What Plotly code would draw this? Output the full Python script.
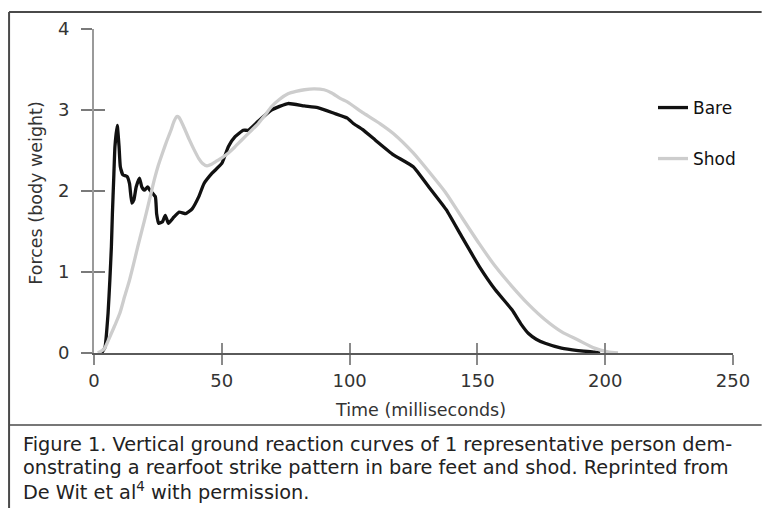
import plotly.graph_objects as go

# ---- data ----
bare_t = [3.0, 4.3, 5.5, 6.2, 6.8, 7.2, 7.7, 8.2, 9.1, 9.8, 10.3, 11.3, 12.9, 13.9, 14.8, 15.6,
          16.5, 17.8, 18.7, 19.7, 21.0, 21.9, 24.0, 24.5, 25.3, 26.8, 27.9, 29.1, 31.3, 33.3,
          35.9, 38.4, 41.0, 43.0, 46.2, 50.0, 52.6, 55.2, 58.4, 60.4, 64.2, 69.4, 75.9, 82.3,
          87.5, 93.9, 99.1, 101.6, 105.0, 110.0, 117.0, 124.9, 131.0, 137.8, 144.0, 150.7,
          157.0, 163.6, 167.0, 170.0, 173.0, 176.5, 182.9, 189.4, 195.8, 198.0]
bare_f = [0.0, 0.07, 0.49, 0.9, 1.31, 1.72, 2.14, 2.55, 2.81, 2.55, 2.30, 2.20, 2.18, 2.09, 1.85, 1.89,
          2.05, 2.16, 2.05, 2.01, 2.05, 2.01, 1.93, 1.72, 1.60, 1.62, 1.70, 1.60, 1.68, 1.74,
          1.72, 1.78, 1.93, 2.09, 2.22, 2.34, 2.55, 2.67, 2.75, 2.75, 2.86, 3.00, 3.08, 3.05,
          3.03, 2.96, 2.90, 2.83, 2.76, 2.63, 2.45, 2.30, 2.05, 1.77, 1.43, 1.07,
          0.78, 0.53, 0.36, 0.24, 0.17, 0.12, 0.06, 0.03, 0.01, 0.0]

shod_t = [1.5, 4.0, 6.2, 8.0, 10.1, 12.0, 13.9, 15.5, 17.1, 18.8, 20.4, 22.0, 23.6, 25.2, 26.8,
          28.5, 30.1, 31.3, 32.4, 33.2, 35.0, 37.2, 39.0, 41.0, 42.5, 44.2, 46.0, 47.5, 50.0,
          52.6, 55.0, 57.8, 61.0, 64.2, 67.0, 69.4, 72.5, 75.9, 79.0, 82.3, 86.0, 90.0, 93.0,
          96.5, 99.1, 105.5, 112.0, 117.1, 124.9, 131.0, 137.8, 144.0, 150.7, 157.0, 163.6,
          170.0, 176.5, 183.0, 189.4, 195.8, 201.0, 205.0]
shod_f = [0.0, 0.05, 0.2, 0.33, 0.49, 0.7, 0.9, 1.1, 1.31, 1.52, 1.72, 1.93, 2.14, 2.32, 2.47,
          2.62, 2.75, 2.86, 2.92, 2.91, 2.80, 2.64, 2.52, 2.40, 2.34, 2.31, 2.33, 2.36, 2.41,
          2.47, 2.54, 2.63, 2.73, 2.83, 2.94, 3.04, 3.13, 3.20, 3.23, 3.25, 3.26, 3.25, 3.21,
          3.14, 3.10, 2.96, 2.83, 2.71, 2.47, 2.24, 1.97, 1.67, 1.35, 1.07, 0.82,
          0.60, 0.41, 0.26, 0.16, 0.06, 0.015, 0.0]

x_ticks = [0, 50, 100, 150, 200, 250]
y_ticks = [0, 1, 2, 3, 4]

x_title = "Time (milliseconds)"
y_title = "Forces (body weight)"
caption_lines = [
    "Figure 1. Vertical ground reaction curves of 1 representative person dem-",
    "onstrating a rearfoot strike pattern in bare feet and shod. Reprinted from",
    "De Wit et al<sup>4</sup> with permission.",
]

# ---- geometry (pixels) ----
W, H = 762, 508
L, R, T, B = 94, 741, 29, 353
def px(x):
    return (x - L) / (R - L)
def py(y):
    return (B - y) / (B - T)

FONT = "DejaVu Sans, Liberation Sans, sans-serif"

fig = go.Figure()
fig.add_trace(go.Scatter(x=bare_t, y=bare_f, mode="lines", name="Bare",
                         line=dict(color="#111111", width=3.3, shape="spline", smoothing=0.4),
                         legend="legend", xaxis="x", yaxis="y"))
fig.add_trace(go.Scatter(x=shod_t, y=shod_f, mode="lines", name="Shod",
                         line=dict(color="#cdcdcd", width=3.3, shape="spline", smoothing=0.6),
                         legend="legend2", xaxis="x2", yaxis="y2"))

common_x = dict(range=[0, 250], tickvals=x_ticks, fixedrange=True, showgrid=False, zeroline=False)
common_y = dict(range=[0, 4], tickvals=y_ticks, fixedrange=True, showgrid=False, zeroline=False)

fig.update_layout(
    width=W, height=H,
    margin=dict(l=L, r=W - R, t=T, b=H - B, pad=0),
    paper_bgcolor="white", plot_bgcolor="white",
    font=dict(family=FONT, color="#333333", size=16),
    xaxis=dict(**common_x, showline=True, linecolor="#5a5a5a", linewidth=2,
               ticks="outside", ticklen=10, tickwidth=1.5, tickcolor="#8a8a8a",
               ticklabelstandoff=0, tickfont=dict(size=18, color="#333333")),
    yaxis=dict(**common_y, showline=True, linecolor="#9a9a9a", linewidth=2,
               ticks="outside", ticklen=11, tickwidth=1.5, tickcolor="#7a7a7a",
               ticklabelstandoff=8, tickfont=dict(size=18, color="#333333")),
    xaxis2=dict(**common_x, overlaying="x", side="bottom", showline=False,
                ticks="inside", ticklen=10, tickwidth=1.5, tickcolor="#8a8a8a",
                showticklabels=False),
    yaxis2=dict(**common_y, overlaying="y", side="left", showline=False,
                ticks="inside", ticklen=11, tickwidth=1.5, tickcolor="#7a7a7a",
                showticklabels=False),
    legend=dict(x=px(660), y=py(108), xanchor="left", yanchor="middle",
                bgcolor="rgba(0,0,0,0)", font=dict(size=17, color="#111111"),
                itemwidth=30),
    legend2=dict(x=px(660), y=py(159), xanchor="left", yanchor="middle",
                 bgcolor="rgba(0,0,0,0)", font=dict(size=17, color="#111111"),
                 itemwidth=30),
    showlegend=True,
)

annotations = [
    dict(text=x_title, x=px(425), y=py(410), xref="paper", yref="paper",
         showarrow=False, xanchor="center", yanchor="middle",
         font=dict(size=17.5, color="#333333")),
    dict(text=y_title, x=px(35), y=py(193), xref="paper", yref="paper",
         showarrow=False, xanchor="center", yanchor="middle", textangle=-90,
         font=dict(size=17.5, color="#333333")),
]
cap_y = [444, 467, 491]
for line, yy in zip(caption_lines, cap_y):
    annotations.append(dict(text=line, x=px(20), y=py(yy), xref="paper", yref="paper",
                            showarrow=False, xanchor="left", yanchor="middle",
                            font=dict(size=19.3, color="#222222")))
fig.update_layout(annotations=annotations)

shapes = [
    # outer frame (left and top), divider above caption
    dict(type="line", xref="paper", yref="paper", x0=px(8), x1=px(8), y0=py(12), y1=py(520),
         line=dict(color="#4a4a4a", width=2)),
    dict(type="line", xref="paper", yref="paper", x0=px(8), x1=px(770), y0=py(12), y1=py(12),
         line=dict(color="#4a4a4a", width=2)),
    dict(type="line", xref="paper", yref="paper", x0=px(8), x1=px(770), y0=py(425), y1=py(425),
         line=dict(color="#4a4a4a", width=1.5)),
]
fig.update_layout(shapes=shapes)

fig.write_html("out.html", config={"displayModeBar": False},
               post_script="document.body.style.margin='0px';document.body.style.overflow='hidden';")
